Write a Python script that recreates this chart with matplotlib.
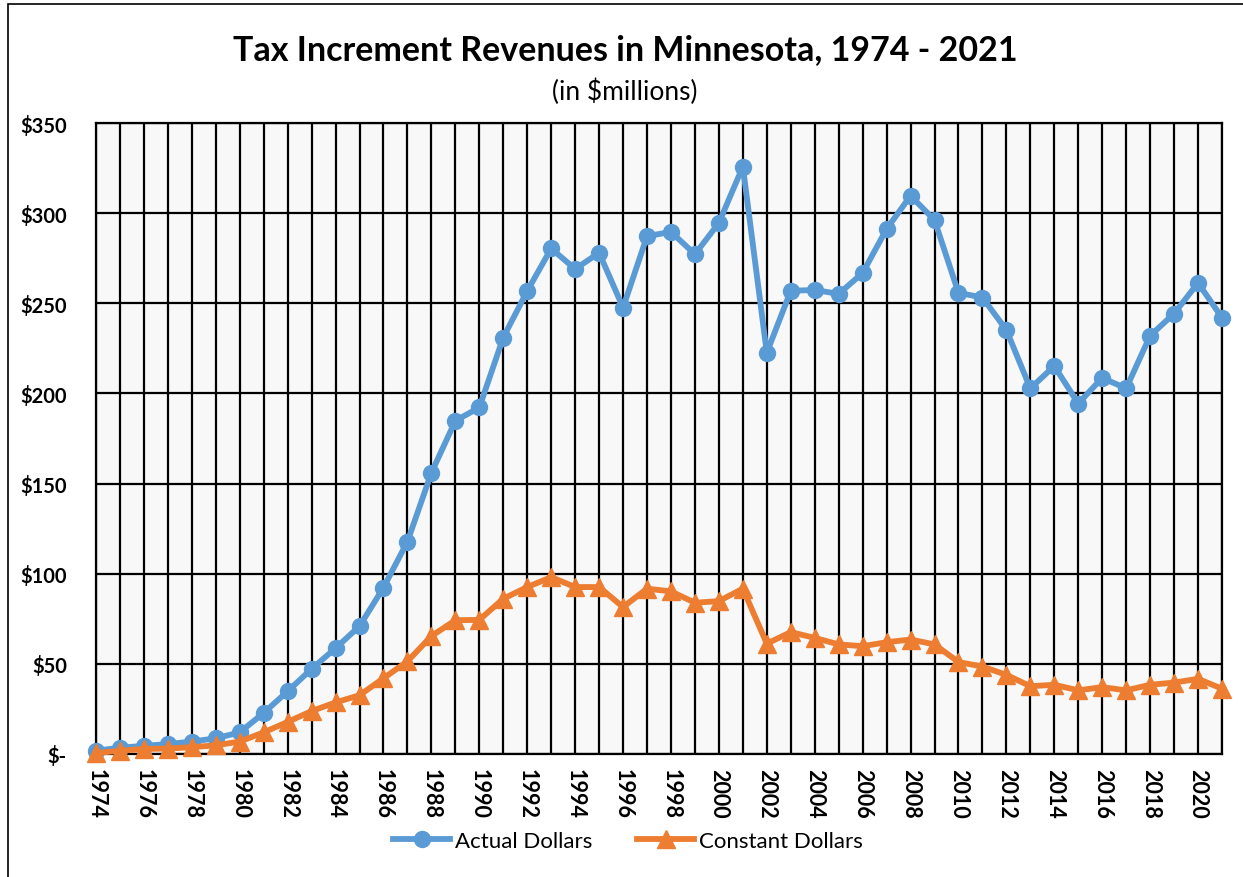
import matplotlib.pyplot as plt
from matplotlib.patches import Rectangle
from matplotlib.lines import Line2D

plt.rcParams['font.family'] = ['Lato', 'DejaVu Sans']

# Datos (en millones de dolares)
years = list(range(1974, 2022))
actual = [1.8, 3.5, 4.5, 5.5, 6.9, 8.7, 12, 22.8, 34.8, 47.2, 58.7, 70.9, 92.3, 117.8,
          156, 184.8, 192.2, 231, 256.8, 280.4, 269, 278, 247.6, 287.2, 289.6, 277.2,
          294.6, 325.8, 222.6, 256.9, 257.4, 255.2, 266.8, 291.2, 309.6, 296.2,
          255.8, 253.2, 235.2, 202.8, 215.2, 194.4, 208.6, 202.8, 232, 244.3, 261.3, 242]
constant = [0.5, 1.8, 2.8, 3, 3.8, 4.8, 6.9, 12, 17.8, 23.8, 28.6, 32.6, 42, 51.4,
            65.4, 74.2, 74.4, 86.1, 92.6, 98.1, 92.6, 92.6, 81.5, 91.7, 90.2, 83.9,
            84.8, 91.7, 61.2, 67.6, 64.4, 60.8, 59.8, 62, 63.5, 60.8,
            51, 48.5, 43.9, 37.6, 38.4, 35.3, 37.1, 35.3, 38.4, 39.6, 41.7, 36.2]
year_labels = [str(y) if y % 2 == 0 else '' for y in years]
y_ticks = [0, 50, 100, 150, 200, 250, 300, 350]
y_labels = ['$-' if v == 0 else f'${v}' for v in y_ticks]

blue = '#5B9BD5'
orange = '#ED7D31'

fig = plt.figure(figsize=(12.43, 8.78), dpi=100)
ax = fig.add_axes([96 / 1243, 1 - 755 / 878, (1222 - 96) / 1243, (755 - 124) / 878])
ax.set_facecolor('#F8F8F8')

ax.plot(years, actual, color=blue, lw=4.2, marker='o', markersize=11.5,
        clip_on=False, zorder=3, label='Actual Dollars')
ax.plot(years, constant, color=orange, lw=4.2, marker='^', markersize=12.5,
        clip_on=False, zorder=4, label='Constant Dollars')

# Ejes
ax.set_xlim(1974, 2021)
ax.set_ylim(0, 350)
ax.set_xticks(years)
ax.set_xticklabels(year_labels, rotation=270, fontsize=15.5, fontweight='bold')
ax.set_yticks(y_ticks)
ax.set_yticklabels(y_labels, fontsize=14.5, fontweight='bold')
ax.tick_params(axis='both', length=0)
ax.tick_params(axis='y', pad=21)
ax.tick_params(axis='x', pad=10)
ax.grid(True, color='black', lw=1.6, zorder=1)
ax.set_axisbelow(True)
for s in ax.spines.values():
    s.set_color('black')
    s.set_linewidth(1.6)

# Titulos
fig.text(0.503, 1 - 50 / 878, 'Tax Increment Revenues in Minnesota, 1974 - 2021',
         ha='center', va='center', fontsize=24.5, fontweight='bold')
fig.text(0.503, 1 - 92 / 878, '(in $millions)', ha='center', va='center', fontsize=19)

# Leyenda
handles = [Line2D([0], [0], color=blue, lw=4.2, marker='o', markersize=11.5),
           Line2D([0], [0], color=orange, lw=4.2, marker='^', markersize=12.5)]
fig.legend(handles, ['Actual Dollars', 'Constant Dollars'], loc='center',
           bbox_to_anchor=(0.505, 1 - 842 / 878), ncol=2, frameon=False,
           fontsize=16, handlelength=2.6, columnspacing=2.0, handletextpad=0.2)

# Borde exterior
fig.add_artist(Rectangle((8 / 1243, -0.1), 1.2, 1.1 - 5 / 878, transform=fig.transFigure,
                         fill=False, edgecolor='black', lw=1.2))

fig.savefig('out.png', dpi=100)
